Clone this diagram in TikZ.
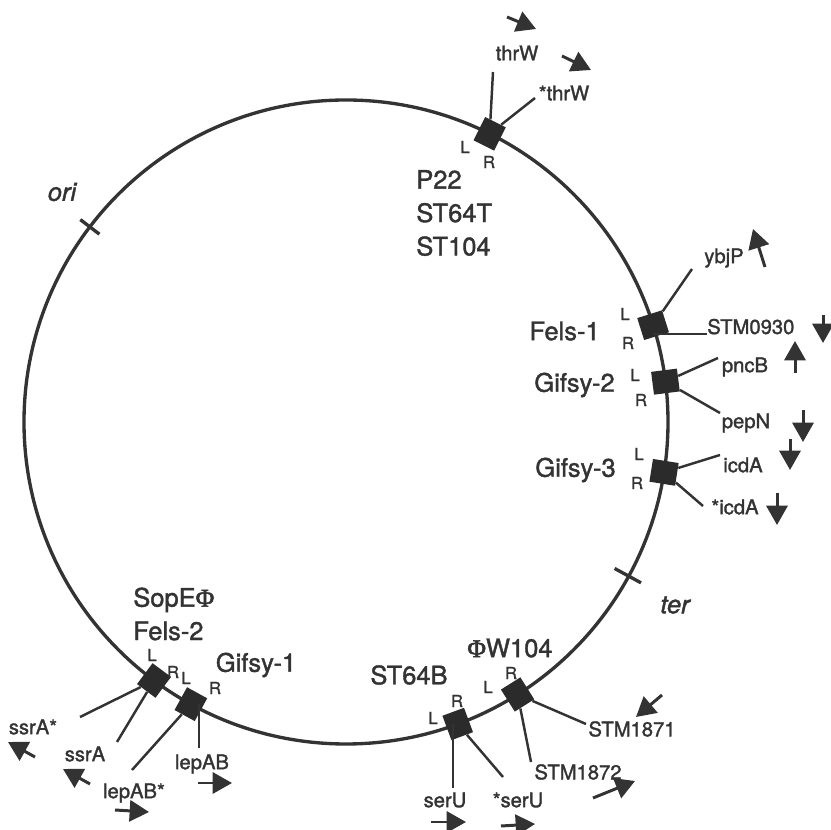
\documentclass[tikz,border=0pt]{standalone}
\usepackage{fontspec}
\setmainfont{TeX Gyre Heros}[FakeBold=1.5]
\newfontfamily\phifont{Liberation Serif}[FakeBold=2]
\usetikzlibrary{arrows.meta}
\definecolor{ink}{HTML}{333333}
\newcommand{\Phisym}{{\phifont Φ}}

\begin{document}
\begin{tikzpicture}[
    x=0.02cm, y=0.02cm,
    chrom/.style={draw=ink, line width=1.9pt},
    phage/.style={fill=ink!85!black, minimum width=0.52cm, minimum height=0.46cm, inner sep=0pt},
    site/.style={draw=ink, line width=1.4pt},
    dirarrow/.style={draw=ink, line width=1.7pt, -{Triangle[length=11pt,width=12pt]}},
    big/.style={text=ink, font=\fontsize{14.5}{19}\selectfont, inner sep=0pt, align=left},
    bigit/.style={text=ink, font=\fontsize{14.5}{19}\selectfont\itshape, inner sep=0pt},
    gene/.style={text=ink, font=\fontsize{11.5}{13}\selectfont, inner sep=0pt},
    lr/.style={text=ink, font=\fontsize{9.5}{11}\selectfont, inner sep=0pt}
  ]
    \useasboundingbox (-346,-408) rectangle (485,422);

    % chromosome with ori and ter
    \draw[chrom] (0,0) circle[radius=322];
    \draw[chrom] (142.7:310) -- (142.7:334);
    \draw[chrom] (-28.6:306) -- (-28.6:336);
    \node[bigit] (ori) at (-284,230) {ori};
    \node[bigit] (ter) at (329,-183) {ter};

    % prophage insertion sites
    \node[phage, rotate=63.5] (thrw) at (63.5:322) {};
    \node[phage, rotate=17.5] (felsone) at (17.5:322) {};
    \node[phage, rotate=7.2] (gifsytwo) at (7.2:322) {};
    \node[phage, rotate=-9] (gifsythree) at (-9:322) {};
    \node[phage, rotate=-57.8] (phiw) at (-57.8:322) {};
    \node[phage, rotate=-69.7] (stb) at (-69.7:322) {};
    \node[phage, rotate=233.4] (felstwo) at (233.4:322) {};
    \node[phage, rotate=241.2] (gifsyone) at (241.2:322) {};

    % P22 / ST64T / ST104 at thrW
    \node[big, anchor=west] (ptt) at (70,209) {P22\\ST64T\\ST104};
    \node[lr] (thrwl) at (119,275) {L};
    \node[lr] (thrwr) at (143,260) {R};
    \coordinate (thrwa) at (147,350);
    \coordinate (thrwb) at (189,324);
    \draw[site] (thrw) -- (thrwa);
    \draw[site] (thrw) -- (thrwb);
    \node[gene] (thrwlab) at (171,369) {thrW};
    \node[gene] (sthrwlab) at (218,329) {*thrW};
    \draw[dirarrow] (161,405) -- (190,393);
    \draw[dirarrow] (216,366) -- (245,352);

    % Fels-1
    \node[big, anchor=east] (felsonelab) at (254,91) {Fels-1};
    \node[lr] (felsonel) at (279,108) {L};
    \node[lr] (felsoner) at (282,79) {R};
    \coordinate (ybjp) at (346,153);
    \coordinate (stmnine) at (361,88);
    \draw[site] (felsone) -- (ybjp);
    \draw[site] (felsone.center |- stmnine) -- (stmnine);
    \node[gene] (ybjplab) at (378,164) {ybjP};
    \node[gene, anchor=base west] (stmninelab) at (361,88) {STM0930};
    \draw[dirarrow] (419,155) -- (407,193);
    \draw[dirarrow] (477,107) -- (477,79);

    % Gifsy-2
    \node[big, anchor=east] (gifsytwolab) at (269,37) {Gifsy-2};
    \node[lr] (gifsytwol) at (289,47) {L};
    \node[lr] (gifsytwor) at (295,22) {R};
    \coordinate (pncb) at (372,64);
    \coordinate (pepn) at (374,9);
    \draw[site] (gifsytwo) -- (pncb);
    \draw[site] (gifsytwo) -- (pepn);
    \node[gene] (pncblab) at (399,55) {pncB};
    \node[gene] (pepnlab) at (400,-1) {pepN};
    \draw[dirarrow] (449,49) -- (449,81);
    \draw[dirarrow] (457,12) -- (457,-20);

    % Gifsy-3
    \node[big, anchor=east] (gifsythreelab) at (270,-48) {Gifsy-3};
    \node[lr] (gifsythreel) at (293,-32) {L};
    \node[lr] (gifsythreer) at (291,-61) {R};
    \coordinate (icda) at (374,-33);
    \coordinate (sicda) at (357,-84);
    \draw[site] (gifsythree) -- (icda);
    \draw[site] (gifsythree) -- (sicda);
    \node[gene] (icdalab) at (397,-43) {icdA};
    \node[gene] (sicdalab) at (389,-85) {*icdA};
    \draw[dirarrow] (444,-17) -- (444,-48);
    \draw[dirarrow] (431,-71) -- (431,-103);

    % PhiW104
    \node[big] (phiwlab) at (164,-226) {\Phisym W104};
    \node[lr] (phiwr) at (165,-251) {R};
    \node[lr] (phiwl) at (142,-265) {L};
    \coordinate (stmone) at (240,-302);
    \coordinate (stmtwo) at (185,-340);
    \draw[site] (phiw) -- (stmone);
    \draw[site] (phiw) -- (stmtwo);
    \node[gene] (stmonelab) at (286,-307) {STM1871};
    \node[gene] (stmtwolab) at (232,-350) {STM1872};
    \draw[dirarrow] (316,-273) -- (290,-295);
    \draw[dirarrow] (247,-376) -- (289,-359);

    % ST64B
    \node[big] (stblab) at (63,-253) {ST64B};
    \node[lr] (stbl) at (87,-296) {L};
    \node[lr] (stbr) at (111,-279) {R};
    \coordinate (seru) at (107,-366);
    \coordinate (sseru) at (157,-355);
    \draw[site] (seru |- stb.center) -- (seru);
    \draw[site] (stb) -- (sseru);
    \node[gene] (serulab) at (99,-378) {serU};
    \node[gene] (sserulab) at (172,-378) {*serU};
    \draw[dirarrow] (85,-400) -- (120,-400);
    \draw[dirarrow] (155,-404) -- (189,-402);

    % SopEPhi / Fels-2 and Gifsy-1
    \node[big, anchor=west] (felstwolab) at (-213,-192) {SopE\Phisym\\Fels-2};
    \node[big] (gifsyonelab) at (-90,-243) {Gifsy-1};
    \node[lr] (felstwol) at (-194,-233) {L};
    \node[lr] (felstwor) at (-173,-250) {R};
    \node[lr] (gifsyonel) at (-160,-256) {L};
    \node[lr] (gifsyoner) at (-131,-266) {R};
    \coordinate (ssras) at (-266,-295);
    \coordinate (ssra) at (-229,-320);
    \coordinate (lepabs) at (-214,-348);
    \coordinate (lepab) at (-147,-326);
    \draw[site] (felstwo) -- (ssras);
    \draw[site] (felstwo) -- (ssra);
    \draw[site] (gifsyone) -- (lepabs);
    \draw[site] (lepab |- gifsyone.center) -- (lepab);
    \node[gene] (ssraslab) at (-313,-305) {ssrA*};
    \node[gene] (ssralab) at (-261,-332) {ssrA};
    \node[gene] (lepabslab) at (-212,-371) {lepAB*};
    \node[gene] (lepablab) at (-144,-342) {lepAB};
    \draw[dirarrow] (-311,-335) -- (-338,-320);
    \draw[dirarrow] (-256,-362) -- (-283,-347);
    \draw[dirarrow] (-231,-388) -- (-197,-390);
    \draw[dirarrow] (-148,-361) -- (-114,-361);
\end{tikzpicture}
\end{document}
